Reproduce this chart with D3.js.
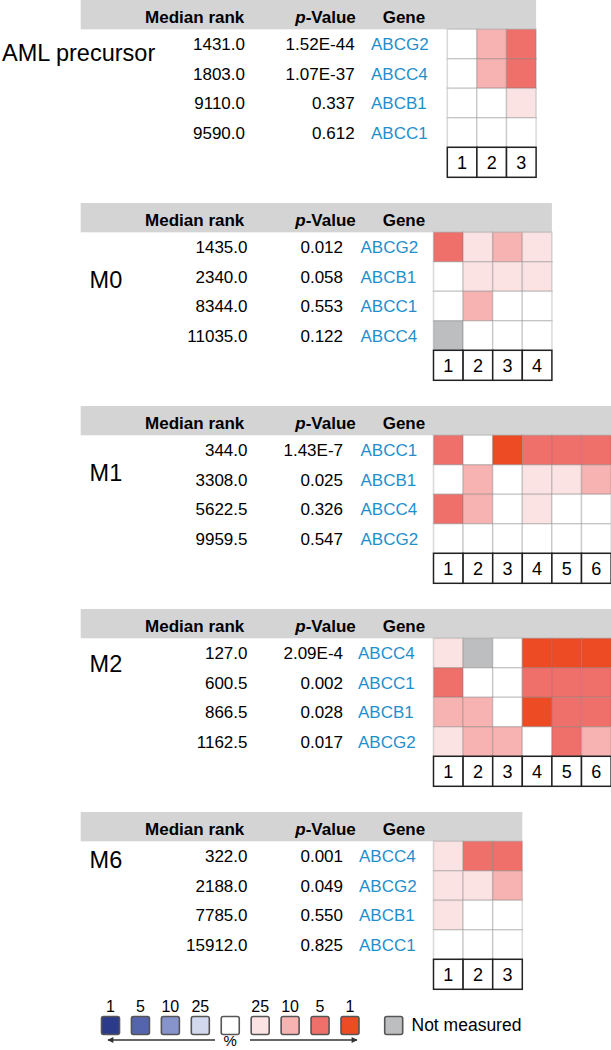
<!DOCTYPE html>
<html>
<head>
<meta charset="utf-8">
<script src="https://cdn.jsdelivr.net/npm/d3@7"></script>
<style>
body { margin: 0; background: #fff; }
text { font-family: "Liberation Sans", Arial, Helvetica, sans-serif; }
</style>
</head>
<body>
<svg id="chart"></svg>
<script>
/* ---------- data ---------- */

var panelNames = ["AML precursor", "M0", "M1", "M2", "M6"];

var panelGenes = [
    ["ABCG2", "ABCC4", "ABCB1", "ABCC1"],
    ["ABCG2", "ABCB1", "ABCC1", "ABCC4"],
    ["ABCC1", "ABCB1", "ABCC4", "ABCG2"],
    ["ABCC4", "ABCC1", "ABCB1", "ABCG2"],
    ["ABCC4", "ABCG2", "ABCB1", "ABCC1"]
];

var panelRanks = [
    ["1431.0", "1803.0", "9110.0", "9590.0"],
    ["1435.0", "2340.0", "8344.0", "11035.0"],
    ["344.0", "3308.0", "5622.5", "9959.5"],
    ["127.0", "600.5", "866.5", "1162.5"],
    ["322.0", "2188.0", "7785.0", "15912.0"]
];

var panelPValues = [
    ["1.52E-44", "1.07E-37", "0.337", "0.612"],
    ["0.012", "0.058", "0.553", "0.122"],
    ["1.43E-7", "0.025", "0.326", "0.547"],
    ["2.09E-4", "0.002", "0.028", "0.017"],
    ["0.001", "0.049", "0.550", "0.825"]
];

// 0 = none, 1..4 = top 25/10/5/1 %, "na" = not measured
var panelLevels = [
    [[0, 2, 3], [0, 2, 3], [0, 0, 1], [0, 0, 0]],
    [[3, 1, 2, 1], [0, 1, 1, 1], [0, 2, 0, 0], ["na", 0, 0, 0]],
    [[3, 0, 4, 3, 3, 3], [0, 2, 0, 1, 1, 2], [3, 2, 0, 1, 0, 0], [0, 0, 0, 0, 0, 0]],
    [[1, "na", 0, 4, 4, 4], [3, 0, 0, 3, 3, 3], [2, 2, 0, 4, 3, 3], [1, 2, 2, 0, 3, 2]],
    [[1, 3, 3], [1, 1, 2], [1, 0, 0], [0, 0, 0]]
];

var legendLevels = [-4, -3, -2, -1, 0, 1, 2, 3, 4];
var legendLabels = ["1", "5", "10", "25", "", "25", "10", "5", "1"];

/* ---------- layout ---------- */

var WIDTH = 611, HEIGHT = 1050;
var panelStep = 203,
    bandH = 29.3,
    rowH = 29.5,
    boxH = 30,
    cellW = 29.6,
    bandLeft = 80.7;

var heatLeft = [447.3, 433.5, 433.5, 433.5, 433.5];
var rankRight = [245, 247.5, 247.5, 247.5, 247.5];
var pRight = [354.6, 343, 343, 343, 343];
var geneLeft = [371, 360.5, 360.5, 358, 359];
var labelX = [2, 89.6, 89.6, 89.6, 89.6];
var labelBase = [61, 85, 75, 63, 56];

var geneColor = "#1f8fcc",
    bandColor = "#d4d4d4",
    gridColor = "rgba(120,120,120,0.28)";

var color = d3.scaleOrdinal()
    .domain([-4, -3, -2, -1, 0, 1, 2, 3, 4, "na"])
    .range(["#2c3a8c", "#5465ad", "#8793cb", "#d2d8ee", "#ffffff",
            "#fbe3e3", "#f6b3b1", "#ef706b", "#ec4b24", "#bdbebf"]);

var svg = d3.select("#chart")
    .attr("width", WIDTH)
    .attr("height", HEIGHT);

/* ---------- panels ---------- */

panelNames.forEach(function(name, i) {
    var top = i * panelStep;
    var nCols = panelLevels[i][0].length;
    var x0 = heatLeft[i], x1 = x0 + nCols * cellW;
    var rowTop = top + bandH;

    var g = svg.append("g");

    var x = d3.scaleBand()
        .domain(d3.range(1, nCols + 1))
        .range([x0, x1]);

    var y = d3.scaleBand()
        .domain(panelGenes[i])
        .range([rowTop, rowTop + 4 * rowH]);

    // header band
    g.append("rect")
        .attr("x", bandLeft)
        .attr("y", top)
        .attr("width", x1 - bandLeft)
        .attr("height", bandH)
        .attr("fill", bandColor);

    var hy = top + 23;
    g.append("text")
        .attr("x", 244.3).attr("y", hy)
        .attr("text-anchor", "end")
        .attr("font-size", "17px").attr("font-weight", "bold")
        .text("Median rank");

    var pv = g.append("text")
        .attr("x", 355.8).attr("y", hy)
        .attr("text-anchor", "end")
        .attr("font-size", "17px").attr("font-weight", "bold");
    pv.append("tspan").attr("font-style", "italic").text("p");
    pv.append("tspan").text("-Value");

    g.append("text")
        .attr("x", 382.7).attr("y", hy)
        .attr("font-size", "17px").attr("font-weight", "bold")
        .text("Gene");

    // group label
    g.append("text")
        .attr("x", labelX[i])
        .attr("y", top + labelBase[i])
        .attr("font-size", "23.5px")
        .text(name);

    // table rows
    var rows = g.selectAll(".row")
        .data(panelGenes[i])
        .enter().append("g")
        .attr("class", "row");

    rows.append("text")
        .attr("x", rankRight[i])
        .attr("y", function(d) { return y(d) + y.bandwidth() / 2 + 6; })
        .attr("text-anchor", "end")
        .attr("font-size", "17px")
        .text(function(d, j) { return panelRanks[i][j]; });

    rows.append("text")
        .attr("x", pRight[i])
        .attr("y", function(d) { return y(d) + y.bandwidth() / 2 + 6; })
        .attr("text-anchor", "end")
        .attr("font-size", "17px")
        .text(function(d, j) { return panelPValues[i][j]; });

    rows.append("text")
        .attr("x", geneLeft[i])
        .attr("y", function(d) { return y(d) + y.bandwidth() / 2 + 6; })
        .attr("font-size", "17px")
        .attr("fill", geneColor)
        .text(function(d) { return d; });

    // heatmap cells
    var cells = [];
    panelGenes[i].forEach(function(gene, r) {
        panelLevels[i][r].forEach(function(v, c) {
            cells.push({gene: gene, col: c + 1, level: v});
        });
    });

    g.selectAll(".cell")
        .data(cells)
        .enter().append("rect")
        .attr("class", "cell")
        .attr("x", function(d) { return x(d.col); })
        .attr("y", function(d) { return y(d.gene); })
        .attr("width", x.bandwidth())
        .attr("height", y.bandwidth())
        .attr("fill", function(d) { return color(d.level); })
        .attr("stroke", gridColor)
        .attr("stroke-width", 1.5);

    // sample number boxes
    var boxTop = rowTop + 4 * rowH;
    var boxes = g.selectAll(".box")
        .data(x.domain())
        .enter().append("g")
        .attr("class", "box");

    boxes.append("rect")
        .attr("x", function(d) { return x(d); })
        .attr("y", boxTop)
        .attr("width", x.bandwidth())
        .attr("height", boxH)
        .attr("fill", "#fff")
        .attr("stroke", "#222")
        .attr("stroke-width", 1.5);

    boxes.append("text")
        .attr("x", function(d) { return x(d) + x.bandwidth() / 2; })
        .attr("y", boxTop + boxH / 2 + 6.5)
        .attr("text-anchor", "middle")
        .attr("font-size", "18px")
        .text(function(d) { return d; });
});

/* ---------- legend ---------- */

var lx = d3.scalePoint()
    .domain(legendLevels)
    .range([110.5, 350]);

var sq = 18, sqTop = 1016.5;
var legend = svg.append("g");

legend.selectAll(".lsq")
    .data(legendLevels)
    .enter().append("rect")
    .attr("x", function(d) { return lx(d) - sq / 2; })
    .attr("y", sqTop)
    .attr("width", sq)
    .attr("height", sq)
    .attr("rx", 2)
    .attr("fill", function(d) { return color(d); })
    .attr("stroke", "#555")
    .attr("stroke-width", 1.6);

legend.selectAll(".llab")
    .data(legendLevels)
    .enter().append("text")
    .attr("x", function(d) { return lx(d); })
    .attr("y", 1011.5)
    .attr("text-anchor", "middle")
    .attr("font-size", "16px")
    .text(function(d, j) { return legendLabels[j]; });

legend.append("rect")
    .attr("x", 393.7 - sq / 2)
    .attr("y", sqTop)
    .attr("width", sq)
    .attr("height", sq)
    .attr("rx", 2)
    .attr("fill", color("na"))
    .attr("stroke", "#555")
    .attr("stroke-width", 1.6);

legend.append("text")
    .attr("x", 411.5)
    .attr("y", 1031)
    .attr("font-size", "17.5px")
    .text("Not measured");

// arrows
var defs = svg.append("defs");
defs.append("marker")
    .attr("id", "head")
    .attr("viewBox", "0 0 10 10")
    .attr("refX", 9).attr("refY", 5)
    .attr("markerWidth", 8).attr("markerHeight", 6)
    .attr("markerUnits", "userSpaceOnUse")
    .attr("orient", "auto")
    .append("path")
    .attr("d", "M0,0L10,5L0,10Z")
    .attr("fill", "#333");

legend.append("line")
    .attr("x1", 215).attr("x2", 108)
    .attr("y1", 1040).attr("y2", 1040)
    .attr("stroke", "#333").attr("stroke-width", 1.5)
    .attr("marker-end", "url(#head)");

legend.append("line")
    .attr("x1", 250).attr("x2", 357)
    .attr("y1", 1040).attr("y2", 1040)
    .attr("stroke", "#333").attr("stroke-width", 1.5)
    .attr("marker-end", "url(#head)");

legend.append("text")
    .attr("x", lx(0))
    .attr("y", 1046)
    .attr("text-anchor", "middle")
    .attr("font-size", "15px")
    .text("%");
</script>
</body>
</html>
